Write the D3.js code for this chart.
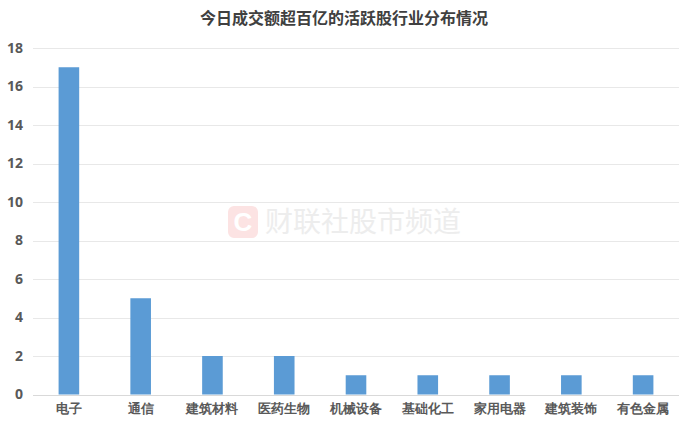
<!DOCTYPE html>
<html><head><meta charset="utf-8">
<script src="https://cdn.jsdelivr.net/npm/d3@7"></script>
<style>
html,body{margin:0;padding:0;background:#fff;}
svg{display:block;font-family:"Noto Sans CJK SC","Microsoft YaHei",sans-serif;}
</style></head>
<body>
<svg id="chart" width="692" height="430"></svg>
<script>
const title = "今日成交额超百亿的活跃股行业分布情况";
const categories = ["电子","通信","建筑材料","医药生物","机械设备","基础化工","家用电器","建筑装饰","有色金属"];
const values = [17,5,2,2,1,1,1,1,1];
const yTicks = [0,2,4,6,8,10,12,14,16,18];

const svg = d3.select("#chart");
const margin = {left:33, right:13, top:48, bottom:35.5};
const W = 692, H = 430;

const x = d3.scaleBand().domain(categories).range([margin.left, W - margin.right]).paddingInner(0.713).paddingOuter(0.3565);
const y = d3.scaleLinear().domain([0,18]).range([H - margin.bottom, margin.top]);

// watermark
const wm = svg.append("g");
wm.append("rect").attr("x",228).attr("y",206).attr("width",30).attr("height",32).attr("rx",6).attr("fill","#fce3e3");
wm.append("text").attr("x",243).attr("y",231).attr("text-anchor","middle").attr("font-size",26).attr("font-weight","bold")
  .attr("fill","#ffffff").attr("font-family","Arial, Liberation Sans, sans-serif").text("C");
wm.append("text").attr("x",265).attr("y",232).attr("font-size",28).attr("fill","#ededed").text("财联社股市频道");

// gridlines
svg.append("g").selectAll("line").data(yTicks).join("line")
  .attr("x1",margin.left).attr("x2",W - margin.right)
  .attr("y1",d=>Math.round(y(d))+0.5).attr("y2",d=>Math.round(y(d))+0.5)
  .attr("stroke",d=> d===0 ? "#d9d9d9" : "#e8e8e8").attr("stroke-width",1);

// y axis
const yAxis = d3.axisLeft(y).tickValues(yTicks).tickSize(0).tickPadding(10);
const ya = svg.append("g").attr("transform",`translate(${margin.left},0)`).call(yAxis);
ya.select(".domain").remove();
ya.selectAll("text").attr("font-size",14).attr("font-weight","bold").attr("fill","#595959")
  .attr("font-family","Open Sans, Noto Sans, sans-serif");

// bars
svg.append("g").selectAll("rect").data(values).join("rect")
  .attr("x",(d,i)=>x(categories[i])).attr("width",x.bandwidth())
  .attr("y",d=>y(d)).attr("height",d=>y(0)-y(d))
  .attr("fill","#5b9bd5");

// x axis
const xAxis = d3.axisBottom(x).tickSize(0).tickPadding(9);
const xa = svg.append("g").attr("transform",`translate(0,${y(0)})`).call(xAxis);
xa.select(".domain").remove();
xa.selectAll("text").attr("font-size",13).attr("font-weight","bold").attr("fill","#595959");

// title
svg.append("text").attr("x",344).attr("y",24).attr("text-anchor","middle")
  .attr("font-size",16).attr("font-weight","bold").attr("fill","#404040").text(title);
</script>
</body></html>
